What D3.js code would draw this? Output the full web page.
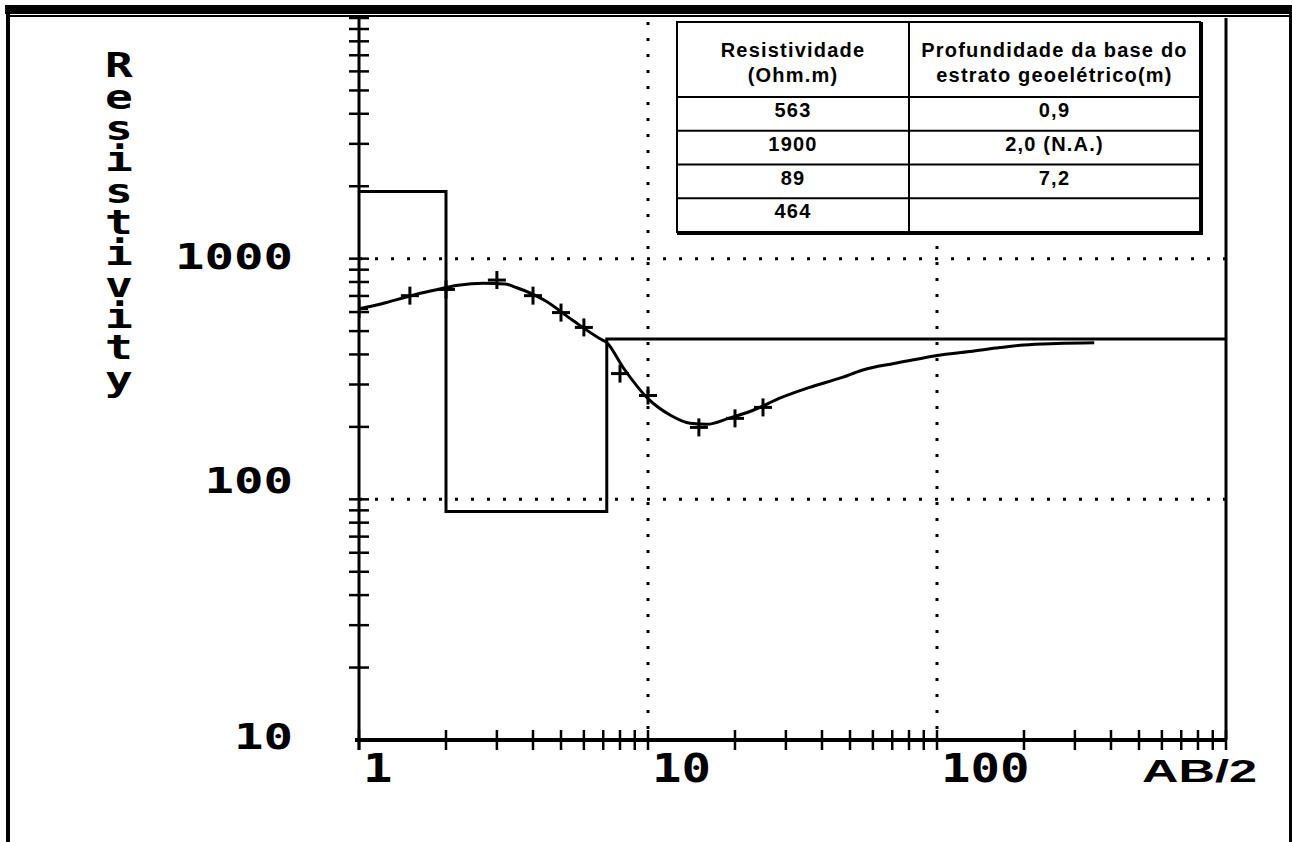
<!DOCTYPE html>
<html>
<head>
<meta charset="utf-8">
<script src="https://cdn.jsdelivr.net/npm/d3@7"></script>
<style>
  body { margin: 0; background: #fff; }
  .pix { font-family: "DejaVu Sans Mono", monospace; font-weight: bold; fill: #000; }
  .tbl { font-family: "Liberation Sans", Arial, sans-serif; font-weight: bold; font-size: 20px; letter-spacing: 1.2px; fill: #000; }
  .vert { writing-mode: vertical-rl; text-orientation: upright; }
</style>
</head>
<body>
<div id="chart"></div>
<script>
// observed apparent resistivity (the + marks)
var abObs  = [1, 1.5, 2, 3, 4, 5, 6, 8, 10, 15, 20, 25];
var rhoObs = [620, 702, 745, 815, 702, 597, 518, 333, 270, 199, 217, 241];

// model response curve
var abCurve  = [1, 1.2, 1.5, 1.8, 2.2, 2.7, 3.2, 3.5, 4.4, 5.5, 6.8, 7.2, 8.2, 10, 12, 14, 16, 19, 23, 29, 36, 47, 55, 71, 84, 100, 130, 165, 200, 260, 350];
var rhoCurve = [620, 650, 700, 737, 775, 790, 785, 759, 670, 553, 466, 448, 353, 262, 223, 207, 205, 217, 234, 265, 291, 321, 344, 367, 381, 396, 411, 427, 438, 444, 447];

// layered model (resistivity / depth of base)
var layerRho   = [563, 1900, 89, 464];
var layerDepth = [0.9, 2.0, 7.2];

// table texts
var tableHead1 = ["Resistividade", "(Ohm.m)"];
var tableHead2 = ["Profundidade da base do", "estrato geoelétrico(m)"];
var tableRes   = ["563", "1900", "89", "464"];
var tableDep   = ["0,9", "2,0 (N.A.)", "7,2", ""];

// axis labels
var xLabelVals = [1, 10, 100];
var yLabelVals = [10, 100, 1000];
var yTitle = "Resistivity";

var W = 1292, H = 842;
var svg = d3.select("#chart").append("svg")
    .attr("width", W).attr("height", H);

var x = d3.scaleLog().domain([1, 1000]).range([359, 1226]);
var y = d3.scaleLog().domain([10, 10000]).range([740, 18]);

// page frame
svg.append("rect").attr("x", 5).attr("y", 5).attr("width", W - 5).attr("height", 9).attr("fill", "#000");
svg.append("rect").attr("x", 6).attr("y", 15).attr("width", W - 6).attr("height", 2).attr("fill", "#000");
svg.append("rect").attr("x", 6).attr("y", 5).attr("width", 4).attr("height", H).attr("fill", "#000");
svg.append("rect").attr("x", 1289).attr("y", 5).attr("width", 4).attr("height", H).attr("fill", "#000");

svg.append("clipPath").attr("id", "plot")
  .append("rect")
    .attr("x", x.range()[0]).attr("y", y.range()[1])
    .attr("width", x.range()[1] - x.range()[0])
    .attr("height", y.range()[0] - y.range()[1]);

// dotted grid
var grid = svg.append("g")
    .attr("stroke", "#000").attr("stroke-width", 3)
    .attr("stroke-dasharray", "3,13");
grid.selectAll(".gx").data([10, 100]).enter().append("line")
    .attr("x1", d => x(d)).attr("x2", d => x(d))
    .attr("y1", y.range()[1] + 4).attr("y2", y.range()[0]);
grid.selectAll(".gy").data([100, 1000]).enter().append("line")
    .attr("x1", x.range()[0]).attr("x2", x.range()[1])
    .attr("y1", d => y(d)).attr("y2", d => y(d));

// axes
var ax = svg.append("g").attr("stroke", "#000");
ax.append("line").attr("x1", x(1)).attr("x2", x(1))
    .attr("y1", y.range()[1]).attr("y2", y.range()[0] + 10).attr("stroke-width", 3);
ax.append("line").attr("x1", x(1000)).attr("x2", x(1000))
    .attr("y1", y.range()[1]).attr("y2", y.range()[0]).attr("stroke-width", 3);
ax.append("line").attr("x1", x(1) - 4).attr("x2", x(1000) + 1)
    .attr("y1", y(10)).attr("y2", y(10)).attr("stroke-width", 4);

ax.selectAll(".xt").data(x.ticks()).enter().append("line")
    .attr("x1", d => x(d)).attr("x2", d => x(d))
    .attr("y1", y(10) - 10).attr("y2", y(10) + 10)
    .attr("stroke-width", 2.5);
ax.selectAll(".yt").data(y.ticks().filter(d => d > 10)).enter().append("line")
    .attr("x1", x(1) - 10).attr("x2", x(1) + 10)
    .attr("y1", d => y(d)).attr("y2", d => y(d))
    .attr("stroke-width", 2.5);

// tick labels
var yOff = { 10: -4, 100: -19, 1000: -3 };
svg.selectAll(".yl").data(yLabelVals).enter().append("text")
    .attr("class", "pix")
    .attr("x", 293)
    .attr("y", d => y(d) + yOff[d] + 13)
    .attr("text-anchor", "end")
    .attr("font-size", 36)
    .attr("textLength", d => String(d).length * 29.5)
    .attr("lengthAdjust", "spacingAndGlyphs")
    .text(d => d);

svg.selectAll(".xl").data(xLabelVals).enter().append("text")
    .attr("class", "pix")
    .attr("x", d => x(d) + 4)
    .attr("y", 782)
    .attr("font-size", 39)
    .attr("textLength", d => String(d).length * 29.5)
    .attr("lengthAdjust", "spacingAndGlyphs")
    .text(d => d);

svg.append("text")
    .attr("x", x(1000) + 31).attr("y", 782)
    .attr("text-anchor", "end")
    .attr("font-family", "'Liberation Sans Narrow', 'Liberation Sans', sans-serif")
    .attr("font-weight", "bold")
    .attr("font-size", 32)
    .attr("textLength", 115)
    .attr("lengthAdjust", "spacingAndGlyphs")
    .text("AB/2");

// vertical title, one text written top to bottom
svg.append("g").attr("transform", "translate(119,0) scale(1.4,1)")
  .append("text")
    .attr("class", "pix vert")
    .attr("x", 0)
    .attr("y", 47)
    .attr("font-size", 33)
    .attr("letter-spacing", -6.5)
    .text(yTitle);

// layered model step line
var steps = [[0.5, layerRho[0]]];
layerDepth.forEach(function(dp, i) {
    steps.push([dp, layerRho[i]]);
    steps.push([dp, layerRho[i + 1]]);
});
steps.push([2000, layerRho[layerRho.length - 1]]);

svg.append("path")
    .attr("clip-path", "url(#plot)")
    .attr("d", d3.line().x(d => x(d[0])).y(d => y(d[1]))(steps))
    .attr("fill", "none").attr("stroke", "#000").attr("stroke-width", 3);

// model curve
svg.append("path")
    .attr("d", d3.line().curve(d3.curveMonotoneX)
        .x((d, i) => x(abCurve[i])).y((d, i) => y(rhoCurve[i]))(abCurve))
    .attr("fill", "none").attr("stroke", "#000").attr("stroke-width", 3);

// observed points
var pts = svg.append("g").attr("clip-path", "url(#plot)")
    .selectAll("g").data(abObs).enter().append("g")
    .attr("transform", (d, i) => "translate(" + x(d) + "," + y(rhoObs[i]) + ")")
    .attr("stroke", "#000").attr("stroke-width", 3);
pts.append("line").attr("x1", -9).attr("x2", 9);
pts.append("line").attr("y1", -9).attr("y2", 9);

// table
var tL = 677, tR = 1200, tT = 22, tHead = 97, tB = 232, tMid = 909;
var rowH = (tB - tHead) / tableRes.length;
var tb = svg.append("g");
tb.append("rect").attr("x", tL).attr("y", tT).attr("width", tR - tL).attr("height", tB - tT)
    .attr("fill", "#fff").attr("stroke", "#000").attr("stroke-width", 2);
tb.append("rect").attr("x", tR).attr("y", tT).attr("width", 3).attr("height", tB - tT + 3).attr("fill", "#000");
tb.append("rect").attr("x", tL).attr("y", tB).attr("width", tR - tL + 3).attr("height", 3).attr("fill", "#000");
tb.append("line").attr("x1", tMid).attr("x2", tMid).attr("y1", tT).attr("y2", tB)
    .attr("stroke", "#000").attr("stroke-width", 2);
tb.selectAll(".rl").data(d3.range(tableRes.length)).enter().append("line")
    .attr("x1", tL).attr("x2", tR)
    .attr("y1", i => tHead + i * rowH).attr("y2", i => tHead + i * rowH)
    .attr("stroke", "#000").attr("stroke-width", 2);

var c1 = (tL + tMid) / 2, c2 = (tMid + tR) / 2;
[tableHead1, tableHead2].forEach(function(lines, k) {
    tb.selectAll(".h" + k).data(lines).enter().append("text")
        .attr("class", "tbl")
        .attr("x", k === 0 ? c1 : c2)
        .attr("y", (d, i) => 57 + i * 25)
        .attr("text-anchor", "middle")
        .text(d => d);
});
tb.selectAll(".r1").data(tableRes).enter().append("text")
    .attr("class", "tbl").attr("x", c1)
    .attr("y", (d, i) => tHead + i * rowH + 20)
    .attr("text-anchor", "middle").text(d => d);
tb.selectAll(".r2").data(tableDep).enter().append("text")
    .attr("class", "tbl").attr("x", c2)
    .attr("y", (d, i) => tHead + i * rowH + 20)
    .attr("text-anchor", "middle").text(d => d);
</script>
</body>
</html>
